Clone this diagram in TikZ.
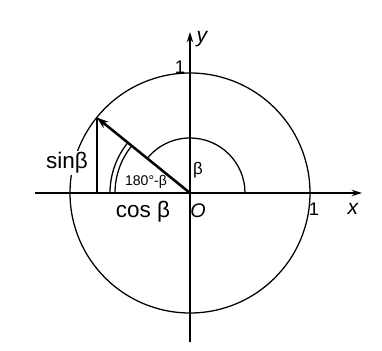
\documentclass[tikz,border=0pt]{standalone}
\usepackage{fontspec}
\setmainfont{Liberation Sans}
\usetikzlibrary{arrows.meta, positioning, calc}
\tikzset{
  every picture/.style={line width=0.9pt},
  axis/.style={-{Stealth[length=2.6mm, width=1.6mm]}, line width=1pt},
  vec/.style={-{Stealth[length=3mm, width=2mm]}, line width=1.8pt},
  lbl/.style={font=\fontsize{16}{18}\selectfont, inner sep=1pt},
  small/.style={font=\fontsize{10}{11}\selectfont, inner sep=1pt},
}
\begin{document}
\begin{tikzpicture}
  \useasboundingbox (-4.75,-3.95) rectangle (4.8,4.825);
  % unit circle and axes
  \coordinate (O) at (0,0);
  \coordinate (P) at (141:3);
  \coordinate (xa) at (-3.875,0); \coordinate (xb) at (4.3,0);
  \coordinate (ya) at (0,-3.725); \coordinate (yb) at (0,4.025);
  \draw (O) circle (3);
  \draw[axis] (xa) -- (xb);
  \draw[axis] (ya) -- (yb);
  % angle arcs
  \draw ($(O)+(1.375,0)$) arc (0:141:1.375);
  \draw ($(O)+(-2.0,0)$) arc (180:141:2.0);
  \draw ($(O)+(-1.875,0)$) arc (180:141:1.875);
  % vector and projection
  \draw[line width=1.1pt] (P) -- (P|-O);
  \draw[vec] (O) -- (P);
  % labels
  \node[lbl, fill=white] (sinb) at (-3.075,0.75) {sinβ};
  \node[lbl] (cosb) at (-1.175,-0.475) {cos β};
  \node[lbl, font=\fontsize{14}{16}\selectfont\itshape] (o) at (0.2,-0.45) {O};
  \node[lbl, font=\fontsize{13}{15}\selectfont] (one x) at (3.1,-0.4) {1};
  \node[lbl, font=\fontsize{15}{17}\selectfont\itshape] (x) at (4.075,-0.4) {x};
  \node[lbl, font=\fontsize{15}{17}\selectfont\itshape] (y) at (0.3,3.85) {y};
  \node[lbl, font=\fontsize{13}{15}\selectfont] (one y) at (-0.25,3.15) {1};
  \node[small, font=\fontsize{12}{13}\selectfont] (beta) at (0.2,0.58) {β};
  \node[small] (sup) at (-1.1,0.28) {180°-β};
\end{tikzpicture}
\end{document}
